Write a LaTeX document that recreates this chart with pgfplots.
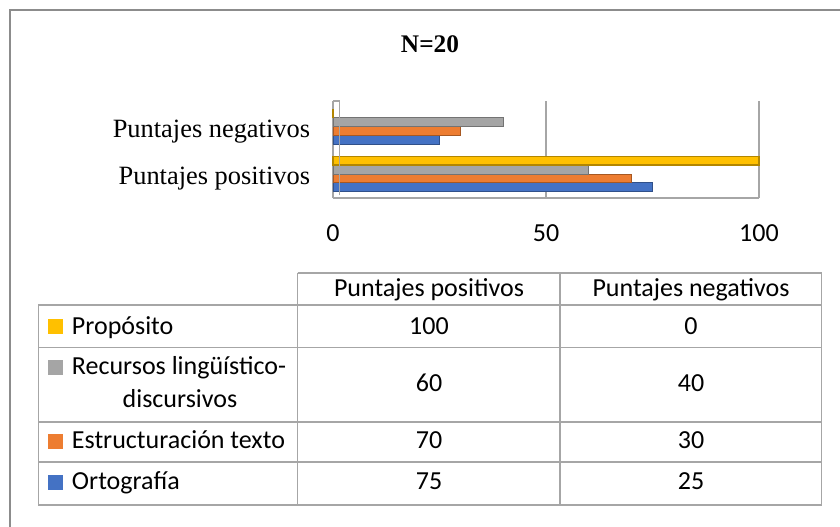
\documentclass[border=0pt]{standalone}
\usepackage{pgfplots}
\pgfplotsset{compat=1.18}
\usepackage{fontspec}
\setmainfont{Liberation Serif}
\newfontfamily\cali{Carlito}
\definecolor{cblue}{HTML}{4472C4}
\definecolor{corange}{HTML}{ED7D31}
\definecolor{cgray}{HTML}{A5A5A5}
\definecolor{cyellow}{HTML}{FFC000}
\definecolor{gline}{HTML}{A6A6A6}
\definecolor{frameg}{HTML}{8C8C8C}
\newcommand\tfont{\cali\fontsize{19.5}{22}\selectfont}
\begin{document}
\begin{tikzpicture}[x=0.75pt,y=-0.75pt]
\path[use as bounding box] (0,0) rectangle (840,527);
\draw[frameg, line width=1.1pt] (10,540) -- (10,10) -- (850,10);
\node[font=\bfseries\fontsize{19}{22}\selectfont, inner sep=0pt] at (430,44) {N=20};
\begin{axis}[
  at={(249.75pt,-148.5pt)}, anchor=south west,
  scale only axis, width=319.5pt, height=72.75pt,
  xmin=0, xmax=100, ymin=-0.505, ymax=1.537,
  xbar, bar width=0.184,
  xtick={0,50,100}, xticklabels={0,50,100},
  ytick={0,1}, yticklabels={Puntajes positivos, Puntajes negativos},
  xmajorgrids, grid style={gline, line width=1pt},
  axis x line*=bottom, axis y line*=left,
  axis line style={gline, line width=1pt, -},
  tick style={draw=none},
  xticklabel style={font=\tfont, anchor=center, yshift=-26.25pt},
  yticklabel style={font=\fontsize{19.8}{22}\selectfont, anchor=base east, inner sep=0pt, xshift=-12.75pt, yshift=-8pt},
  clip=false,
]
\addplot[fill=cblue, draw=cblue!70!black, line width=0.5pt, bar shift=-0.276] coordinates {(75,0) (25,1)};
\addplot[fill=corange, draw=corange!70!black, line width=0.5pt, bar shift=-0.092] coordinates {(70,0) (30,1)};
\addplot[fill=cgray, draw=cgray!70!black, line width=0.5pt, bar shift=0.092] coordinates {(60,0) (40,1)};
\addplot[fill=cyellow, draw=cyellow!70!black, line width=1.2pt, bar shift=0.276] coordinates {(100,0) (0,1)};
\draw[gline, line width=1pt] ([xshift=5pt,yshift=2pt]rel axis cs:0,0) -- ([xshift=5pt]rel axis cs:0,1) -- (rel axis cs:0,1);
\end{axis}
% data table
\draw[gline, line width=1pt]
  (297.7,273) -- (821.7,273)
  (38.3,305) -- (821.7,305)
  (38.3,347.7) -- (821.7,347.7)
  (38.3,422) -- (821.7,422)
  (38.3,462) -- (821.7,462)
  (38.3,505) -- (821.7,505)
  (38.3,305) -- (38.3,505)
  (297.7,273) -- (297.7,505)
  (560,273) -- (560,505)
  (821.7,273) -- (821.7,505);
\begin{scope}[every node/.style={font=\tfont, inner sep=0pt}]
\node[anchor=base] at (429,297) {Puntajes positivos};
\node[anchor=base] at (691,297) {Puntajes negativos};
\fill[cyellow] (48.3,319) rectangle (63.3,334);
\node[anchor=base west] at (71.7,335) {Propósito};
\fill[cgray] (48.3,360) rectangle (63.3,375);
\node[anchor=base west] at (71.7,375) {Recursos lingüístico-};
\node[anchor=base] at (180,408) {discursivos};
\fill[corange] (48.3,434) rectangle (63.3,449);
\node[anchor=base west] at (71.7,449) {Estructuración texto};
\fill[cblue] (48.3,475) rectangle (63.3,490);
\node[anchor=base west] at (71.7,490) {Ortografía};
\node[anchor=base] at (429,335) {100};
\node[anchor=base] at (691,335) {0};
\node[anchor=base] at (429,391.7) {60};
\node[anchor=base] at (691,391.7) {40};
\node[anchor=base] at (429,449) {70};
\node[anchor=base] at (691,449) {30};
\node[anchor=base] at (429,490) {75};
\node[anchor=base] at (691,490) {25};
\end{scope}
\end{tikzpicture}
\end{document}
